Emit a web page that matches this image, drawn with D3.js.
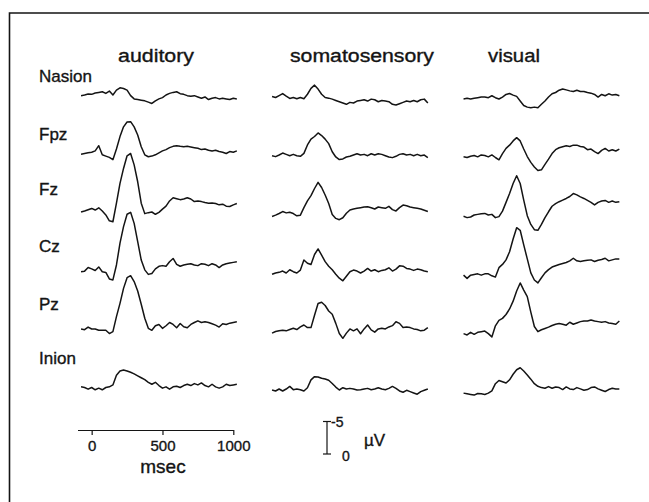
<!DOCTYPE html>
<html><head><meta charset="utf-8">
<script src="https://cdn.jsdelivr.net/npm/d3@7"></script>
<style>html,body{margin:0;padding:0;background:#fff;overflow:hidden;width:649px;height:502px}svg{display:block}</style>
</head><body>
<svg id="c" width="649" height="502"></svg>
<script>
// ---------- data ----------
const conditions = ["auditory", "somatosensory", "visual"];
const electrodes = ["Nasion", "Fpz", "Fz", "Cz", "Pz", "Inion"];
const timeTicks = [0, 500, 1000];
const scaleBarTicks = [-5, 0];
const timeUnit = "msec";
const ampUnit = "\u00b5V";

// sample times (ms)
const times = [-75,-50,-25,0,25,50,75,100,125,150,175,200,225,250,275,300,325,350,375,400,425,450,475,500,525,550,575,600,625,650,675,700,725,750,775,800,825,850,875,900,925,950,975,1000,1025];

// amplitudes in µV (negative up)
const audNasion = [0.1,0,-0.15,-0.1,-0.3,-0.4,-0.5,-0.25,-0.6,0,-0.75,-1.1,-1.0,-0.75,0.1,0.6,0.7,0.8,0.9,1.1,1.3,0.9,0.6,0.4,0,-0.25,-0.4,-0.5,-0.2,-0.1,0.1,0.2,0.1,0.3,0.5,0.3,0.7,0.5,0.4,0.6,0.5,0.6,0.7,0.5,0.6];
const audFpz = [0.1,0,-0.1,-0.2,-0.4,-1.2,0.2,0.4,0.6,0.95,-0.7,-2.6,-4.1,-4.85,-4.9,-4.1,-2.85,-1.05,0.2,0.5,0.4,0.2,-0.1,-0.4,-0.6,-0.9,-1.1,-1.2,-1.1,-1.05,-1.1,-1.0,-0.9,-0.8,-0.6,-0.7,-0.5,-0.4,-0.5,-0.3,-0.2,0,-0.3,-0.2,-0.4];
const audFz = [0,-0.15,-0.35,-0.55,-0.3,-0.65,-0.15,0.45,1.35,1.5,-1.35,-4.4,-6.7,-8.65,-9.0,-7.25,-4.65,-1.35,0.25,0.1,0,0.35,0.05,-0.45,-0.9,-1.7,-2.2,-2.05,-1.9,-2.0,-2.2,-2.0,-1.6,-1.7,-1.6,-1.45,-1.35,-1.4,-1.3,-1.1,-1.2,-0.9,-0.85,-1.1,-1.3];
const audCz = [0.2,0.1,-0.45,-0.25,0,-0.55,0.2,0.3,1.3,1.45,-0.85,-4.2,-6.75,-8.65,-8.95,-7.25,-4.45,-1.6,-0.1,0.6,0.45,-0.25,-0.65,-0.75,-0.65,-1.35,-1.85,-0.95,-0.65,-0.85,-0.95,-1.05,-0.85,-0.75,-1.05,-0.95,-0.75,-1.05,-0.85,-0.45,-0.85,-1.05,-1.15,-1.25,-1.35];
const audPz = [0,0.1,-0.3,0,0,0.2,0.2,0.2,0.7,0.4,-1.9,-3.95,-6.25,-7.9,-8.2,-7.3,-5.85,-3.8,-1.65,-0.1,0.2,-0.5,-0.7,-0.1,-0.5,-1.0,-0.7,-0.2,-0.85,-0.35,-0.2,-0.7,-1.0,-1.25,-1.0,-1.1,-1.0,-0.8,-0.6,-0.3,-0.8,-0.7,-0.9,-1.0,-1.1];
const audInion = [-0.1,0,0.25,0,0.35,0.1,0.35,0,-0.1,-0.4,-1.9,-2.55,-2.7,-2.55,-2.35,-2.1,-1.8,-1.5,-1.2,-0.8,-0.5,-0.8,-0.3,0.1,-0.1,0.25,-0.1,-0.2,0,-0.3,-0.5,-0.3,-0.6,-0.4,-0.7,-0.3,-0.1,-0.5,-0.1,0.1,-0.1,-0.5,-0.3,-0.4,-0.5];

const somNasion = [-0.15,0,-0.3,-0.6,-0.2,0.15,0,0.2,0,0.2,-0.5,-1.4,-1.9,-1.3,-0.5,0,0.1,0.25,0.45,0.65,0.85,1.05,0.75,0.85,0.55,0.45,0.35,0.55,0.25,0.35,0.65,0.45,0.55,0.65,1.05,1.15,0.95,0.75,0.55,0.65,0.45,0.65,0.35,0.25,0.85];
const somFpz = [-0.05,0.1,-0.15,-0.45,-0.25,-0.05,-0.25,-0.05,0.05,-0.4,-1.7,-2.6,-3.0,-3.55,-3.15,-2.6,-1.9,-0.65,0.15,0.55,0.45,0.15,0.05,-0.15,-0.35,-0.15,-0.25,-0.05,-0.35,-0.15,-0.35,-0.25,-0.05,0.15,0.25,0.05,-0.25,-0.35,-0.15,-0.25,-0.05,-0.25,-0.05,-0.15,0.25];
const somFz = [0.3,0.1,-0.15,-0.45,-0.25,-0.35,-0.15,0.2,0.1,-1.05,-2.1,-2.9,-4.0,-4.95,-4.15,-3.0,-1.7,0,0.6,0.8,0.5,-0.2,-0.7,-0.85,-0.95,-1.05,-1.15,-1.2,-1.05,-0.85,-1.15,-1.05,-0.95,-1.25,-0.75,-0.55,-1.05,-1.45,-1.35,-1.15,-1.05,-0.95,-0.85,-0.65,-0.45];
const somCz = [0.2,0,-0.1,-0.3,0,-0.5,-0.2,0,-0.45,-2.0,-1.5,-1.3,-2.85,-3.7,-2.75,-1.75,-1.05,-0.5,0.2,0.8,1.2,0.5,-0.2,-0.45,-0.3,0,-0.3,-0.7,-0.3,-0.5,-0.2,-0.4,-0.5,-0.8,-0.3,-0.6,-1.1,-1.05,-0.7,-0.6,-0.4,-0.6,-0.5,-0.3,-0.2];
const somPz = [0.25,0,-0.1,-0.2,-0.1,-0.3,-0.5,-0.3,-0.7,-1.0,-0.6,-0.6,-2.5,-4.3,-4.5,-4.0,-3.15,-2.65,-1.25,0.3,1.05,0.25,-0.4,-0.1,-0.4,0.35,-0.4,-1.0,-0.25,0.1,-0.4,-0.5,-0.4,-0.7,-0.9,-1.5,-1.25,-0.6,-0.7,-0.6,-0.4,-0.3,-0.1,-0.2,-0.6];
const somInion = [0,0.15,-0.15,0.15,-0.15,-0.55,-0.05,-0.15,-0.05,0.15,-0.35,-1.55,-2.05,-2.0,-1.8,-1.7,-1.5,-1.0,-0.45,0,-0.35,-0.15,-0.25,-0.15,0,-0.05,-0.15,-0.25,-0.05,-0.15,-0.35,-0.15,-0.05,-0.25,-0.55,-0.25,0.15,0.35,0.05,0.25,0.45,0.65,0.25,0.05,-0.15];

const visNasion = [0,-0.1,0,-0.1,-0.2,-0.3,-0.3,-0.2,-0.5,-0.2,0,-0.3,-0.7,-0.85,-0.6,-0.4,0.3,1.0,1.25,1.35,1.25,1.35,0.8,0.3,-0.3,-0.8,-1.0,-1.35,-1.55,-1.4,-1.25,-1.15,-1.35,-1.15,-1.15,-1.0,-0.9,-0.7,-0.3,-0.7,-0.5,-0.8,-0.6,-0.7,-0.5];
const visFpz = [-0.1,0,-0.2,-0.3,-0.1,-0.4,-0.3,-0.1,-0.4,0,0.35,-0.6,-1.4,-1.9,-2.55,-3.05,-2.55,-1.3,-0.15,0.75,1.45,2.0,1.9,1.05,0.25,-0.6,-1.2,-1.5,-1.65,-1.8,-1.7,-1.9,-1.9,-1.7,-1.6,-1.2,-1.3,-0.9,-0.6,-1.1,-1.4,-1.0,-1.2,-1.0,-1.3];
const visFz = [0.05,0.25,0.15,-0.15,-0.25,-0.35,-0.4,-0.15,-0.25,0.25,0.1,-0.75,-2.1,-3.45,-5.0,-6.2,-5.0,-2.45,-0.05,1.3,2.1,2.2,1.3,0.25,-0.65,-1.5,-1.9,-2.2,-2.45,-2.7,-3.0,-3.45,-3.25,-2.95,-2.7,-2.4,-2.1,-1.7,-2.1,-2.3,-2.4,-2.1,-2.3,-2.1,-2.2];
const visCz = [0.1,0.6,0.1,0,-0.1,0.1,-0.1,-0.1,0.2,0.4,-1.05,-1.55,-2.25,-3.5,-5.45,-7.2,-6.8,-4.55,-2.4,-0.25,0.85,1.3,0.5,-0.25,-0.75,-1.15,-1.35,-1.55,-1.7,-1.85,-2.1,-2.5,-2.1,-2.0,-2.1,-2.2,-2.25,-2.0,-2.2,-2.3,-2.5,-2.1,-2.25,-2.4,-2.4];
const visPz = [0.1,0.3,-0.1,0.2,-0.1,-0.2,-0.3,0.1,0.6,-1.1,-1.95,-2.25,-2.85,-3.7,-4.9,-6.45,-7.7,-6.6,-5.6,-3.2,-1.0,-0.2,-0.5,-0.7,-0.9,-1.15,-1.35,-1.45,-1.35,-1.2,-1.65,-1.35,-1.55,-1.75,-1.85,-1.85,-2.0,-1.85,-1.75,-1.65,-1.75,-1.55,-1.45,-1.35,-1.85];
const visInion = [0.25,0.35,0.45,0.55,0.3,0.35,0.45,0.25,-0.1,-1.2,-1.7,-1.5,-1.3,-1.8,-2.65,-3.35,-3.65,-3.15,-2.55,-1.9,-1.2,-0.8,-0.6,-0.5,-0.75,-0.5,-0.7,-0.6,-0.3,-0.7,-0.4,-0.3,-0.6,-0.4,-0.2,-0.3,-0.6,-0.7,-0.4,-0.2,0,-0.3,-0.5,-0.4,-0.4];

// ---------- layout ----------
const series = [
  [audNasion, audFpz, audFz, audCz, audPz, audInion],
  [somNasion, somFpz, somFz, somCz, somPz, somInion],
  [visNasion, visFpz, visFz, visCz, visPz, visInion]
];
const FONT = "'Liberation Sans', Arial, Helvetica, sans-serif";
const INK = "#141414";
const svg = d3.select("#c");
svg.append("rect").attr("width", 649).attr("height", 502).attr("fill", "#fff");

// frame (top and left edges)
svg.append("path").attr("d", "M9.5,502V13H649")
  .attr("fill", "none").attr("stroke", INK).attr("stroke-width", 1.6);

const x = d3.scaleLinear().domain([-100, 1000]).range([77.5, 233.3]);
const y = d3.scaleLinear().domain([-5, 5]).range([-32.5, 32.5]);
const colDX = [0, 191, 382.5];
const colDY = [0, 2.5, 4];
const rowY = [95, 153.5, 212, 270.5, 329, 387.5];

const line = d3.line().x((d, i) => x(times[i])).y(d => y(d)).curve(d3.curveLinear);

series.forEach((col, ci) => col.forEach((vals, ri) => {
  svg.append("path")
    .attr("transform", `translate(${colDX[ci]},${rowY[ri] + colDY[ci]})`)
    .attr("d", line(vals))
    .attr("fill", "none").attr("stroke", INK)
    .attr("stroke-width", 1.5).attr("stroke-linejoin", "round");
}));

function styleText(sel, size) {
  return sel.attr("font-family", FONT).attr("font-size", size).attr("fill", INK)
    .attr("stroke", INK).attr("stroke-width", 0.35);
}

// column titles
const titleX = [156, 362, 514], titleW = [76, 144, 52];
conditions.forEach((c, i) => {
  styleText(svg.append("text").attr("x", titleX[i]).attr("y", 62)
    .attr("text-anchor", "middle")
    .attr("textLength", titleW[i]).attr("lengthAdjust", "spacingAndGlyphs"), 18)
    .text(c);
});

// electrode labels
const labelY = [82, 139.5, 195, 251.5, 309.5, 364];
electrodes.forEach((e, i) => {
  styleText(svg.append("text").attr("x", 39).attr("y", labelY[i]), 17).text(e);
});

// time axis
const ax = svg.append("g").attr("transform", "translate(0,430)")
  .call(d3.axisBottom(x).tickValues(timeTicks).tickFormat(d3.format("d"))
    .tickSize(5).tickSizeOuter(0).tickPadding(5));
ax.select(".domain").attr("stroke", INK).attr("stroke-width", 1.2);
ax.selectAll(".tick line").attr("stroke", INK).attr("stroke-width", 1.2);
styleText(ax.selectAll(".tick text"), 15);
styleText(svg.append("text").attr("x", 163).attr("y", 473).attr("text-anchor", "middle"), 19)
  .text(timeUnit);

// amplitude scale bar
const sb = svg.append("g").attr("transform", "translate(327,454)");
sb.append("line").attr("x1", 0).attr("x2", 0).attr("y1", y(scaleBarTicks[0])).attr("y2", y(scaleBarTicks[1]))
  .attr("stroke", INK).attr("stroke-width", 1.2);
scaleBarTicks.forEach(v => {
  sb.append("line").attr("x1", -4).attr("x2", 4).attr("y1", y(v)).attr("y2", y(v))
    .attr("stroke", INK).attr("stroke-width", 1.2);
});
styleText(sb.append("text").attr("x", 4).attr("y", y(scaleBarTicks[0]) + 5), 14)
  .text(String(scaleBarTicks[0]));
styleText(sb.append("text").attr("x", 15).attr("y", y(scaleBarTicks[1]) + 7), 14)
  .text(String(scaleBarTicks[1]));
styleText(sb.append("text").attr("x", 37).attr("y", -8), 17).text(ampUnit);
</script>
</body></html>
